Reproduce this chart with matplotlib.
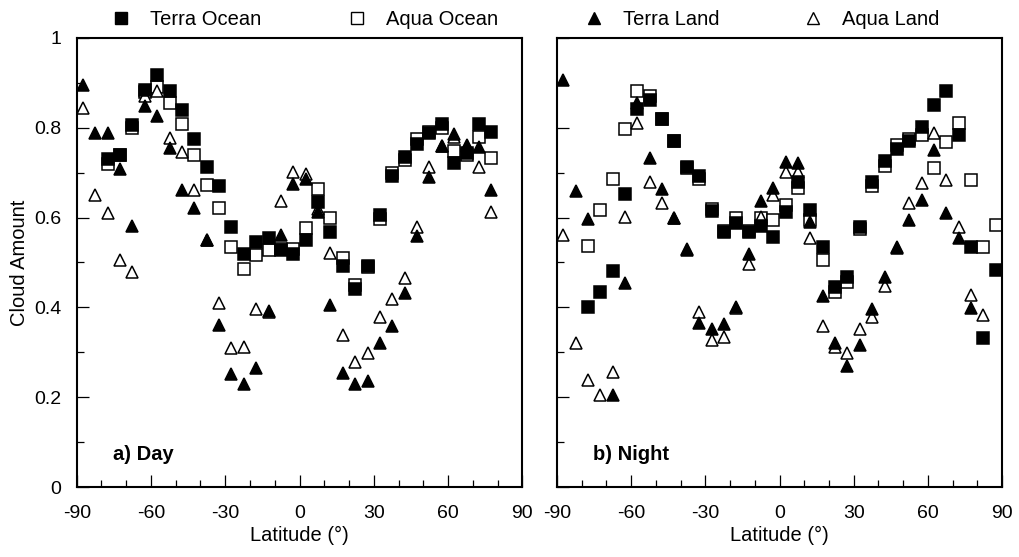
import numpy as np
import matplotlib
matplotlib.use("Agg")
import matplotlib.pyplot as plt
from matplotlib.lines import Line2D
from matplotlib.ticker import MultipleLocator, FixedLocator

plt.rcParams['font.family'] = ['Liberation Sans', 'DejaVu Sans']
plt.rcParams['axes.unicode_minus'] = False

nan = np.nan
# 5-degree latitude bins, -87.5 ... 87.5
lat = np.arange(-87.5, 90, 5.0)

# day (a)
day_terra_ocean = [nan, nan, 0.73, 0.74, 0.806, 0.884, 0.918, 0.882, 0.839, 0.774, 0.713, 0.671,
                   0.578, 0.52, 0.545, 0.554, 0.528, 0.52, 0.55, 0.635, 0.567, 0.493, 0.441, 0.493,
                   0.606, 0.693, 0.736, 0.765, 0.788, 0.808, 0.721, 0.743, 0.808, 0.79, nan, nan]
day_aqua_ocean = [nan, nan, 0.72, 0.74, 0.80, 0.88, 0.89, 0.855, 0.808, 0.739, 0.673, 0.621,
                  0.535, 0.485, 0.516, 0.528, 0.53, 0.53, 0.576, 0.663, 0.60, 0.509, 0.45, 0.49,
                  0.596, 0.70, 0.728, 0.774, 0.79, 0.80, 0.749, 0.739, 0.779, 0.733, nan, nan]
day_terra_land = [0.895, 0.788, 0.788, 0.708, 0.581, 0.849, 0.826, 0.754, 0.661, 0.621, 0.549, 0.361,
                  0.252, 0.229, 0.266, 0.392, 0.561, 0.674, 0.686, 0.613, 0.405, 0.255, 0.229, 0.235,
                  0.32, 0.359, 0.431, 0.559, 0.69, 0.759, 0.786, 0.762, 0.758, 0.661, nan, nan]
day_aqua_land = [0.843, 0.65, 0.61, 0.506, 0.478, 0.87, 0.882, 0.777, 0.745, 0.661, 0.55, 0.409,
                 0.309, 0.312, 0.396, 0.39, 0.637, 0.702, 0.698, 0.62, 0.522, 0.339, 0.279, 0.298,
                 0.379, 0.419, 0.466, 0.58, 0.713, 0.76, 0.78, 0.76, 0.713, 0.613, nan, nan]

# night (b)
night_terra_ocean = [nan, nan, 0.40, 0.435, 0.48, 0.653, 0.841, 0.862, 0.82, 0.771, 0.713, 0.693,
                     0.615, 0.569, 0.587, 0.567, 0.582, 0.557, 0.612, 0.679, 0.617, 0.535, 0.446, 0.468,
                     0.58, 0.679, 0.725, 0.753, 0.771, 0.802, 0.851, 0.882, 0.784, 0.535, 0.331, 0.483]
night_aqua_ocean = [nan, nan, 0.537, 0.617, 0.686, 0.797, 0.883, 0.87, 0.82, 0.77, 0.71, 0.685,
                    0.62, 0.57, 0.60, 0.57, 0.598, 0.595, 0.628, 0.665, 0.595, 0.506, 0.435, 0.457,
                    0.575, 0.671, 0.715, 0.762, 0.775, 0.784, 0.71, 0.769, 0.81, 0.684, 0.535, 0.584]
night_terra_land = [0.906, 0.66, 0.596, nan, 0.205, 0.455, 0.855, 0.733, 0.663, 0.60, 0.528, 0.366,
                    0.351, 0.362, 0.402, 0.52, 0.637, 0.665, 0.724, 0.722, 0.591, 0.425, 0.32, 0.269,
                    0.316, 0.396, 0.468, 0.532, 0.595, 0.639, 0.751, 0.61, 0.554, 0.398, nan, nan]
night_aqua_land = [0.561, 0.321, 0.238, 0.205, 0.257, 0.602, 0.81, 0.679, 0.633, 0.60, 0.53, 0.39,
                   0.327, 0.335, 0.398, 0.497, 0.602, 0.65, 0.702, 0.702, 0.554, 0.359, 0.312, 0.299,
                   0.351, 0.379, 0.448, 0.535, 0.633, 0.678, 0.788, 0.684, 0.58, 0.428, 0.383, nan]

series_names = ['Terra Ocean', 'Aqua Ocean', 'Terra Land', 'Aqua Land']

W, H = 1019, 557
fig = plt.figure(figsize=(W / 100, H / 100), dpi=100)
ax1 = fig.add_axes([76.7 / W, 70 / H, 445.6 / W, 449 / H])
ax2 = fig.add_axes([557 / W, 70 / H, 445 / W, 449 / H])

ms = 8.6
mew = 1.1


def draw(ax, to, ao, tl, al, label):
    ax.plot(lat, ao, 's', ms=ms, mfc='white', mec='black', mew=mew)
    ax.plot(lat, al, '^', ms=ms, mfc='white', mec='black', mew=mew)
    ax.plot(lat, tl, '^', ms=ms, mfc='black', mec='black', mew=mew)
    ax.plot(lat, to, 's', ms=ms, mfc='black', mec='black', mew=mew)
    ax.set_xlim(-90, 90)
    ax.set_ylim(0, 1)
    ax.xaxis.set_major_locator(FixedLocator([-90, -60, -30, 0, 30, 60, 90]))
    ax.xaxis.set_minor_locator(MultipleLocator(10))
    ax.yaxis.set_major_locator(MultipleLocator(0.2))
    ax.yaxis.set_minor_locator(MultipleLocator(0.1))
    ax.tick_params(which='both', direction='in', top=False, right=False, width=0.9, labelsize=14)
    ax.tick_params(which='major', length=8.6)
    ax.tick_params(which='minor', length=4.7)
    ax.tick_params(axis='x', which='major', pad=13)
    ax.tick_params(axis='y', which='major', pad=11)
    for s in ax.spines.values():
        s.set_linewidth(1.5)
    ax.set_xlabel('Latitude (°)', fontsize=14.5, labelpad=2.5)
    ax.text(-75.3, 0.060, label, fontsize=14.5, fontweight='bold', va='baseline', ha='left')


draw(ax1, day_terra_ocean, day_aqua_ocean, day_terra_land, day_aqua_land, 'a) Day')
draw(ax2, night_terra_ocean, night_aqua_ocean, night_terra_land, night_aqua_land, 'b) Night')

ax1.yaxis.set_major_formatter(matplotlib.ticker.FuncFormatter(lambda v, p: '%g' % v))
ax1.set_ylabel('Cloud Amount', fontsize=14.5, labelpad=4)
ax2.tick_params(labelleft=False)

# legend row across the top
leg_markers = ['s', 's', '^', '^']
leg_fills = ['black', 'white', 'black', 'white']
leg_text_x = [150, 386, 623, 842]
for name, mk, fc, tx in zip(series_names, leg_markers, leg_fills, leg_text_x):
    fig.add_artist(Line2D([(tx - 29) / W], [(H - 18) / H], transform=fig.transFigure,
                          ls='none', marker=mk, ms=8.0, mfc=fc, mec='black', mew=1.0))
    fig.text(tx / W, (H - 25) / H, name, fontsize=14.5, va='baseline', ha='left')

fig.savefig('out.png', dpi=100)
